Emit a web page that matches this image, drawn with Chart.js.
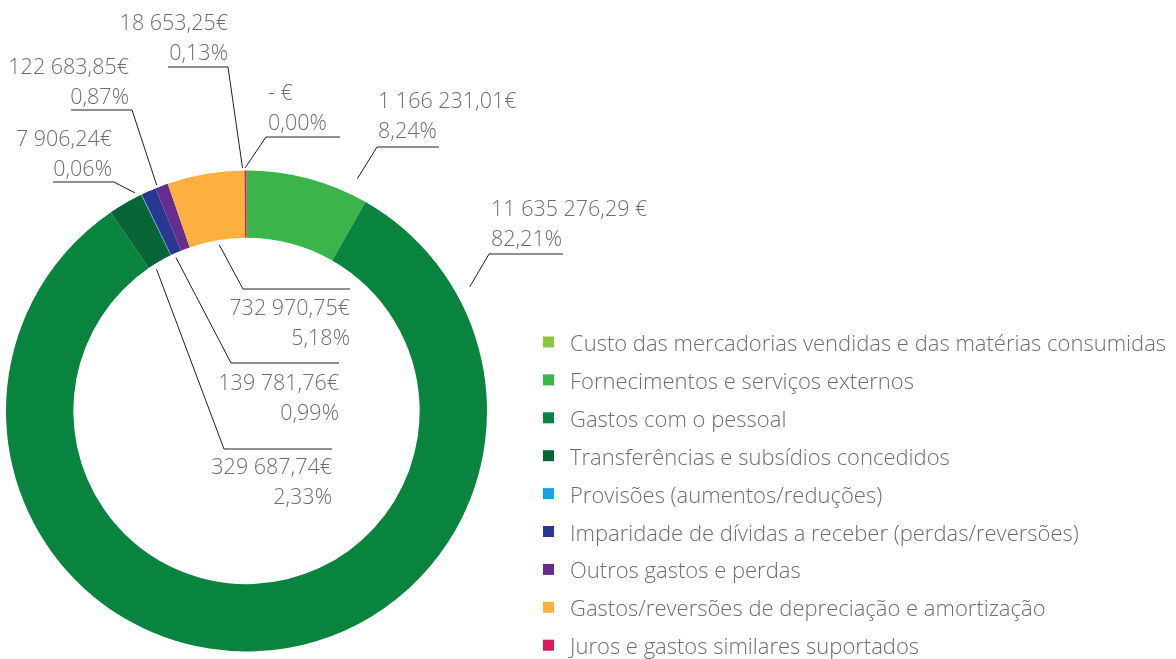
<!DOCTYPE html>
<html lang="pt">
<head>
    <meta charset="UTF-8">
    <title>Gastos</title>
    <script src="https://cdn.jsdelivr.net/npm/chart.js"></script>
    <style>
        body { margin: 0; background: #fff; }
        canvas { display: block; }
    </style>
</head>
<body>
    <canvas id="gastosChart" width="1176" height="659"></canvas>

    <script>
        // Categorias e valores (euros)
        const categories = [
            'Custo das mercadorias vendidas e das matérias consumidas',
            'Fornecimentos e serviços externos',
            'Gastos com o pessoal',
            'Transferências e subsídios concedidos',
            'Provisões (aumentos/reduções)',
            'Imparidade de dívidas a receber (perdas/reversões)',
            'Outros gastos e perdas',
            'Gastos/reversões de depreciação e amortização',
            'Juros e gastos similares suportados'
        ];
        const amounts = [0, 1166231.01, 11635276.29, 329687.74, 7906.24, 139781.76, 122683.85, 732970.75, 18653.25];
        const colors = ['#8cc63f', '#3bb54a', '#09843f', '#076536', '#1ba1e0', '#283891', '#662d91', '#fbb040', '#da1c5c'];

        const textColor = '#6d6e71';
        const lineColor = '#231f20';
        const fontFamily = '"Open Sans", "Noto Sans", sans-serif';

        // Posição das etiquetas de cada fatia (t = fração ao longo do arco)
        const callouts = [
            { index: 8, align: 'right', tx: 228, ty: 22, lineY: 67, x1: 168, x2: 228, elbow: 'right', t: 0.5, nudge: -0.7, gap: 2.5 },
            { index: 0, align: 'left', tx: 268, ty: 92, lineY: 137, x1: 266, x2: 340, elbow: 'left', t: 0.5, nudge: -0.35, gap: 2.5 },
            { index: 1, align: 'left', tx: 378, ty: 100, lineY: 147, x1: 377, x2: 439, elbow: 'left', t: 0.86, nudge: 0, gap: 17 },
            { index: 2, align: 'left', tx: 491, ty: 208, lineY: 254, x1: 489, x2: 563, elbow: 'left', t: 0.1056, nudge: 0, gap: 15, spaced: true },
            { index: 6, align: 'right', tx: 129, ty: 66, lineY: 110, x1: 71, x2: 132, elbow: 'right', t: 0.18, nudge: 0, gap: 2.7 },
            { index: 4, align: 'right', tx: 112, ty: 138, lineY: 182, x1: 53, x2: 114, elbow: 'right', t: 0.5, nudge: -1.2, gap: 4.5 },
            { index: 7, align: 'right', tx: 350, ty: 307, lineY: 289, x1: 243, x2: 350, elbow: 'left', t: 0.526, nudge: 0, gap: -4.8 },
            { index: 5, align: 'right', tx: 339, ty: 382, lineY: 363, x1: 231, x2: 339, elbow: 'left', t: 0.31, nudge: 0, gap: -4.3 },
            { index: 3, align: 'right', tx: 332, ty: 466, lineY: 449, x1: 224, x2: 332, elbow: 'left', t: 0.236, nudge: 0, gap: -5.2 }
        ];

        const total = amounts.reduce((a, b) => a + b, 0);

        function formatEuro(v, spaced) {
            if (v === 0) return '- €';
            const parts = v.toFixed(2).split('.');
            const int = parts[0].replace(/\B(?=(\d{3})+(?!\d))/g, ' ');
            return int + ',' + parts[1] + (spaced ? ' €' : '€');
        }

        function formatPct(v) {
            return (v / total * 100).toFixed(2).replace('.', ',') + '%';
        }

        // Etiquetas com linhas de chamada
        const calloutPlugin = {
            id: 'calloutLabels',
            afterDatasetsDraw(chart) {
                const ctx = chart.ctx;
                const arcs = chart.getDatasetMeta(0).data;
                ctx.save();
                ctx.font = '300 21.5px ' + fontFamily;
                callouts.forEach(c => {
                    const arc = arcs[c.index];
                    const ang = arc.startAngle + c.t * (arc.endAngle - arc.startAngle) + c.nudge * Math.PI / 180;
                    const r = c.gap > 0 ? arc.outerRadius + c.gap : arc.innerRadius + c.gap;
                    const ax = arc.x + Math.cos(ang) * r;
                    const ay = arc.y + Math.sin(ang) * r;
                    const ex = c.elbow === 'left' ? c.x1 : c.x2;

                    ctx.strokeStyle = lineColor;
                    ctx.lineWidth = 1;
                    ctx.beginPath();
                    ctx.moveTo(c.elbow === 'left' ? c.x2 : c.x1, c.lineY);
                    ctx.lineTo(ex, c.lineY);
                    ctx.lineTo(ax, ay);
                    ctx.stroke();

                    ctx.fillStyle = textColor;
                    ctx.textAlign = c.align;
                    ctx.textBaseline = 'alphabetic';
                    ctx.fillText(formatEuro(amounts[c.index], c.spaced), c.tx, c.ty + 8);
                    ctx.fillText(formatPct(amounts[c.index]), c.tx, c.ty + 38);
                });
                ctx.restore();
            }
        };

        // Legenda à direita
        const legendPlugin = {
            id: 'sideLegend',
            afterDraw(chart) {
                const ctx = chart.ctx;
                const labels = chart.data.labels;
                const bg = chart.data.datasets[0].backgroundColor;
                ctx.save();
                ctx.font = '300 22px ' + fontFamily;
                ctx.textAlign = 'left';
                ctx.textBaseline = 'alphabetic';
                labels.forEach((label, i) => {
                    const y = 342 + i * 37.9;
                    ctx.fillStyle = bg[i];
                    ctx.fillRect(543, y - 5.5, 11, 11);
                    ctx.fillStyle = textColor;
                    ctx.fillText(label, 570, y + 9);
                });
                ctx.restore();
            }
        };

        function loadChart() {
            const ctx = document.getElementById('gastosChart').getContext('2d');
            new Chart(ctx, {
                type: 'doughnut',
                data: {
                    labels: categories,
                    datasets: [{
                        data: amounts,
                        backgroundColor: colors,
                        borderWidth: 0
                    }]
                },
                options: {
                    responsive: false,
                    animation: false,
                    cutout: '72%',
                    layout: {
                        padding: { left: 6, right: 689, top: 170, bottom: 7 }
                    },
                    plugins: {
                        legend: { display: false },
                        tooltip: { enabled: false }
                    }
                },
                plugins: [calloutPlugin, legendPlugin]
            });
        }

        window.onload = loadChart;
    </script>
</body>
</html>
